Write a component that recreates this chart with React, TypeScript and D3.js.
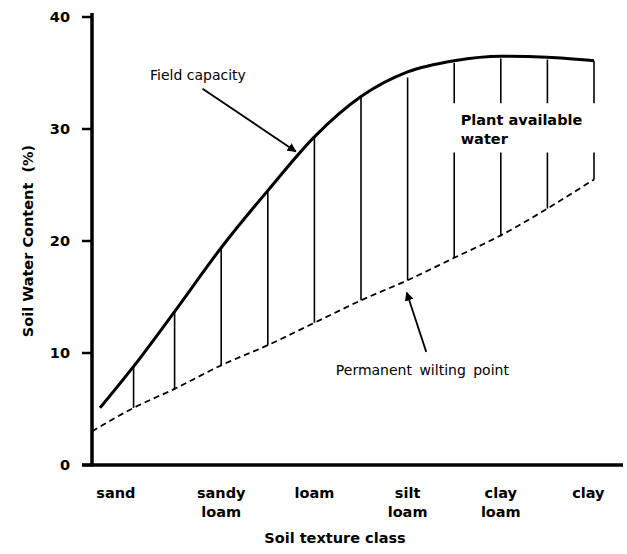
import React from 'react';
import * as d3 from 'd3';

// soil classes along the x axis (index units)
const classes = ['sand', 'sandy loam', 'loam', 'silt loam', 'clay loam', 'clay'];
const classPos = [-0.13, 1, 2, 3, 4, 4.94];

// y ticks
const yTicks = [0, 10, 20, 30, 40];

// hatch positions and curve values at them
const hatchPos = [0.06, 0.5, 1, 1.5, 2, 2.5, 3, 3.5, 4, 4.5, 5];
const fieldCapacity = [8.8, 13.7, 19.4, 24.5, 29.3, 32.9, 35.1, 36.1, 36.5, 36.4, 36.1];
const hatchTop = [8.8, 13.7, 19.4, 24.5, 29.3, 32.9, 34.6, 35.9, 36.3, 36.2, 36.1];
const wiltingPoint = [5.1, 6.8, 8.9, 10.7, 12.7, 14.7, 16.5, 18.5, 20.5, 22.9, 25.5];

// where each curve begins (left of the first hatch)
const fcStart = { x: -0.3, v: 5.1 };
const pwpStart = { x: -0.386, v: 3.0 };

// label gap in the hatches (for "Plant available water")
const gapFrom = 3.5;
const gapRange = [27.9, 32.3];

const W = 627;
const H = 554;
const font = '"DejaVu Sans", Verdana, sans-serif';

export default function App() {
  const x = d3.scaleLinear().domain([0, 5]).range([128, 594]);
  const y = d3.scaleLinear().domain([0, 40]).range([465, 17]);

  const line = d3
    .line<{ x: number; v: number }>()
    .x(d => x(d.x))
    .y(d => y(d.v))
    .curve(d3.curveMonotoneX);

  const fcPts = [fcStart, ...hatchPos.map((p, i) => ({ x: p, v: fieldCapacity[i] }))];
  const pwpPts = [pwpStart, ...hatchPos.map((p, i) => ({ x: p, v: wiltingPoint[i] }))];

  const x0 = 92;
  const y0 = 465;

  return (
    <svg
      width={W}
      height={H}
      style={{ position: 'absolute', left: 0, top: 0, background: '#fff' }}
      fontFamily={font}
    >
      <defs>
        <marker id="arr" viewBox="0 0 10 10" refX="9" refY="5" markerWidth="9" markerHeight="9"
          markerUnits="userSpaceOnUse" orient="auto">
          <path d="M0,0 L10,5 L0,10 z" fill="#000" />
        </marker>
      </defs>

      {/* hatches */}
      {hatchPos.map((p, i) => {
        const top = hatchTop[i];
        const bot = wiltingPoint[i];
        if (p >= gapFrom) {
          return (
            <g key={i} stroke="#000" strokeWidth={1.6}>
              <line x1={x(p)} x2={x(p)} y1={y(top)} y2={y(gapRange[1])} />
              <line x1={x(p)} x2={x(p)} y1={y(gapRange[0])} y2={y(bot)} />
            </g>
          );
        }
        return <line key={i} x1={x(p)} x2={x(p)} y1={y(top)} y2={y(bot)} stroke="#000" strokeWidth={1.6} />;
      })}

      {/* curves */}
      <path d={line(fcPts) || ''} fill="none" stroke="#000" strokeWidth={3} />
      <path d={line(pwpPts) || ''} fill="none" stroke="#000" strokeWidth={1.8} strokeDasharray="6,4" />

      {/* axes */}
      <line x1={x0} x2={x0} y1={13} y2={y0 + 1.5} stroke="#000" strokeWidth={3.5} />
      <line x1={82} x2={623} y1={y0} y2={y0} stroke="#000" strokeWidth={3.5} />
      {yTicks.map(t => (
        <g key={t}>
          <line x1={82} x2={x0} y1={y(t)} y2={y(t)} stroke="#000" strokeWidth={2.5} />
          <text x={70} y={y(t)} dy="0.35em" textAnchor="end" fontSize={14.5} fontWeight="bold">{t}</text>
        </g>
      ))}

      {classes.map((c, i) => {
        const parts = c.split(' ');
        return (
          <text key={c} x={x(classPos[i])} y={498} textAnchor="middle" fontSize={14.5} fontWeight="bold">
            {parts.map((w, j) => (
              <tspan key={j} x={x(classPos[i])} dy={j === 0 ? 0 : 19}>{w}</tspan>
            ))}
          </text>
        );
      })}

      <text x={335} y={543} textAnchor="middle" fontSize={14.5} fontWeight="bold">Soil texture class</text>
      <text transform="translate(33,241) rotate(-90)" textAnchor="middle" fontSize={14.5} fontWeight="bold"
        style={{ whiteSpace: 'pre' }}>Soil Water Content  (%)</text>

      {/* annotations */}
      <text x={x(0.236)} y={y(34.4)} fontSize={14}>Field capacity</text>
      <line x1={x(0.8)} y1={y(33.6)} x2={x(1.8)} y2={y(28.0)} stroke="#000" strokeWidth={1.8} markerEnd="url(#arr)" />

      <text x={x(3.57)} y={y(30.4)} fontSize={14.5} fontWeight="bold">
        <tspan x={x(3.57)}>Plant available</tspan>
        <tspan x={x(3.57)} dy={19}>water</tspan>
      </text>

      <text x={x(2.23)} y={y(8.0)} fontSize={14} wordSpacing={3}>Permanent wilting point</text>
      <line x1={x(3.2)} y1={y(10.1)} x2={x(2.99)} y2={y(15.4)} stroke="#000" strokeWidth={1.8} markerEnd="url(#arr)" />
    </svg>
  );
}
